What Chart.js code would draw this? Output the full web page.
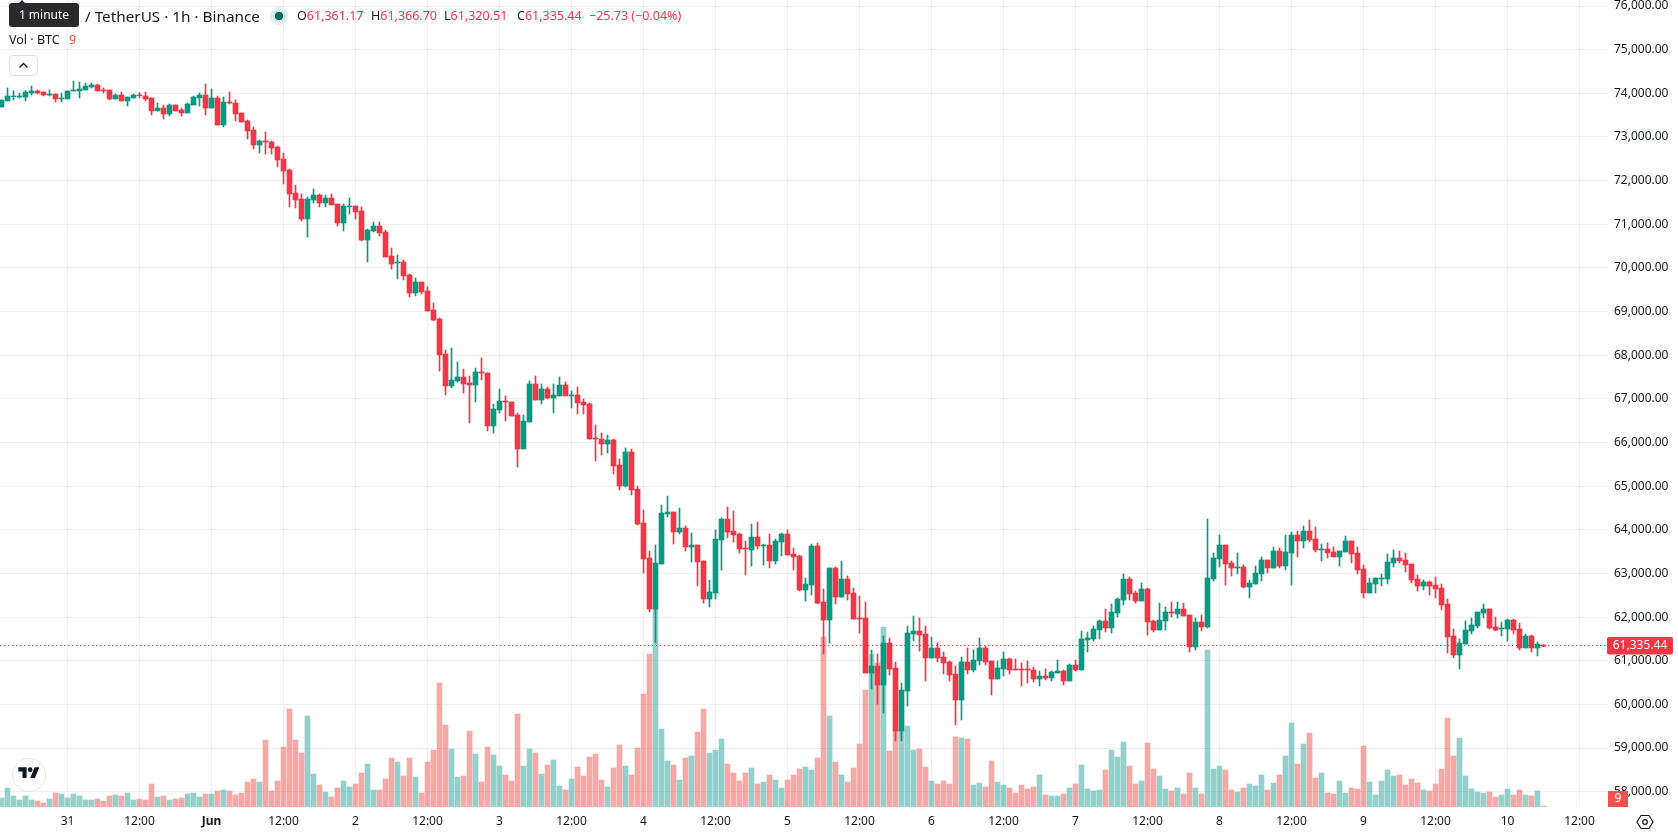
<!DOCTYPE html>
<html>
<head>
<meta charset="utf-8">
<title>BTC / USDT 1h</title>
<script src="https://cdn.jsdelivr.net/npm/chart.js@4"></script>
<style>
  html, body { margin:0; padding:0; background:#fff; overflow:hidden; }
  #wrap { position:relative; width:1678px; height:835px; font-family:"Noto Sans", sans-serif; color:#131722; }
  canvas { display:block; }
  .t { position:absolute; white-space:nowrap; font-size:12.5px; line-height:18px; }
  .title { font-size:15.3px; }
  .red { color:#f23645; }
  #tip { position:absolute; left:9px; top:3px; width:70px; height:24px; background:#2a2a2d; border-radius:3px;
         color:#fff; font-size:12px; line-height:24px; text-align:center; }
  #tip:before { content:""; position:absolute; left:9px; top:-3px; border:4px solid transparent; border-top:0; border-bottom-color:#2a2a2d; }
  #dot { position:absolute; left:270px; top:7px; width:18px; height:18px; border-radius:50%; background:#dcf0ec; }
  #dot:after { content:""; position:absolute; left:5px; top:5px; width:8px; height:8px; border-radius:50%; background:#00695c; }
  #fold { position:absolute; left:9px; top:55px; width:27px; height:19px; border:1px solid #e0e3eb; border-radius:4px; background:#fff; }
  #logo { position:absolute; left:12px; top:758px; width:32px; height:32px; border:1.5px solid #e6e6e6; border-radius:50%; background:#fff; }
  #gear { position:absolute; left:1636px; top:813px; }
</style>
</head>
<body>
<div id="wrap">
  <canvas id="chart" width="1678" height="835"></canvas>

  <div class="t title" style="left:30px;top:7px">Bitcoin</div>
  <div class="t title" style="left:85px;top:7px">/ TetherUS · 1h · Binance</div>
  <div id="tip">1 minute</div>
  <div id="dot"></div>
  <div class="t" style="left:297px;top:7px">O<span class="red">61,361.17</span></div>
  <div class="t" style="left:371px;top:7px">H<span class="red">61,366.70</span></div>
  <div class="t" style="left:444px;top:7px">L<span class="red">61,320.51</span></div>
  <div class="t" style="left:517px;top:7px">C<span class="red">61,335.44</span></div>
  <div class="t red" style="left:589px;top:7px">−25.73 (−0.04%)</div>
  <div class="t" style="left:9px;top:31px">Vol · BTC</div>
  <div class="t" style="left:69px;top:31px;color:#ef5350">9</div>
  <div id="fold">
    <svg width="27" height="19"><path d="M9.5 11.5 L13.5 7.5 L17.5 11.5" fill="none" stroke="#131722" stroke-width="1.3"/></svg>
  </div>
  <div id="logo">
    <svg width="32" height="32" viewBox="-9 -10 54 54"><path d="M14 22H7V11H0V4h14v18zM28 22h-8l7.5-18h8L28 22z" fill="#131722"/><circle cx="20" cy="8" r="4" fill="#131722"/></svg>
  </div>
  <svg id="gear" width="18" height="18" viewBox="0 0 18 18">
    <path d="M5 2.5h8L17 9l-4 6.5H5L1 9z" fill="none" stroke="#131722" stroke-width="1.2"/>
    <circle cx="9" cy="9" r="2.3" fill="none" stroke="#131722" stroke-width="1.2"/>
  </svg>
</div>

<script>
// hourly candles, first one is 30 May 13:00
const opens = [
  73686,73824,73923,73915,73915,74007,74053,74030,73961,73984,
  73870,73870,74053,74053,74076,74145,74190,74076,74076,73870,
  73961,73824,73893,73961,73938,73893,73595,73663,73526,73732,
  73618,73549,73732,73893,73961,73663,73893,73274,73801,73778,
  73549,73366,73160,72816,72908,72885,72770,72495,72243,71716,
  71579,71120,71556,71670,71487,71602,71464,71029,71403,71418,
  71304,70639,70846,70960,70823,70273,70113,70135,69838,69425,
  69677,69471,69036,68830,68028,67295,67409,67501,67364,67318,
  67616,67593,66379,66745,66951,66928,66631,65852,66470,67341,
  66974,67226,67020,67066,67318,67066,67089,66928,66883,66104,
  66081,65966,66058,65485,65004,65783,64934,64156,63354,62185,
  63216,64362,64408,63949,64041,63606,63652,63285,62414,62552,
  63766,64247,63972,63904,63583,63537,63835,63629,63652,63285,
  63720,63904,63445,63400,62621,62735,63629,62346,61933,63125,
  62460,62873,62552,61979,61979,60719,60880,60444,61407,60834,
  59391,60307,61613,61682,61613,61063,61292,61086,60971,60697,
  60101,60972,60789,60995,61293,60995,60582,60812,61041,60812,
  60812,60812,60789,60582,60651,60605,60720,60766,60537,60903,
  60789,61476,61499,61705,61911,61751,62094,62392,62873,62553,
  62369,62644,61911,61705,61911,62117,62072,62186,62049,61316,
  61888,61774,62873,63331,63652,63240,63125,63148,62690,62759,
  62988,63309,63125,63515,63171,63469,63881,63744,63973,63790,
  63538,63561,63492,63377,63492,63744,63469,63102,62553,62759,
  62873,62873,63240,63354,63309,63217,62873,62713,62805,62736,
  62667,62301,61568,61132,61384,61682,61797,62094,62186,61774,
  61728,61728,61934,61728,61293,61567,61293,61361.17
];
const highs = [
  73847,74122,74061,74000,74061,74167,74076,74030,74076,73984,
  74007,74053,74282,74259,74236,74236,74213,74122,74076,73984,
  74030,73915,73984,74015,74030,73893,73778,73732,73755,73732,
  73663,73778,73938,74007,74213,74099,73938,73915,74030,73847,
  73549,73389,73228,72930,73114,72908,72793,72633,72266,71899,
  71693,71624,71808,71693,71670,71693,71464,71464,71602,71418,
  71395,70891,71052,71052,70868,70456,70296,70181,69861,69769,
  69677,69563,69196,68853,68120,68165,67845,67684,67524,67707,
  67936,67593,66882,67226,67066,66928,66676,66631,67409,67524,
  67341,67272,67341,67501,67387,67180,67272,66997,66905,66402,
  66218,66172,66081,65623,65875,65852,65003,64453,63514,63652,
  64568,64774,64408,64499,64087,63926,63652,63285,62850,63995,
  64270,64522,64430,63926,63743,64133,64178,63674,63904,63789,
  63926,63995,63583,63422,62896,63674,63697,62644,63125,63148,
  63285,62941,62667,62483,62346,61246,61155,61567,61521,60971,
  60490,61796,62025,61979,61796,61544,61407,61201,60994,60880,
  61086,61293,61247,61522,61338,60995,60995,61201,61064,61041,
  60949,60995,60857,60766,60812,60766,61018,60789,60926,61018,
  61682,61659,61797,61934,62186,62301,62438,62988,62919,62598,
  62782,62667,61934,62323,62232,62346,62346,62323,62049,61980,
  62049,64248,63469,63881,63652,63286,63469,63194,62850,63171,
  63377,63309,63606,63583,63881,63950,63973,64087,64225,64064,
  63675,63698,63606,63515,63858,63744,63606,63194,62896,62896,
  62988,63446,63538,63515,63469,63217,62965,62850,62827,62919,
  62759,62415,61728,61499,61911,61980,62117,62301,62186,62003,
  61888,61957,61957,61865,61613,61590,61430,61366.70
];
const lows = [
  73686,73824,73847,73893,73824,73961,73984,73938,73938,73801,
  73801,73870,74053,73893,74076,74122,74053,74007,73847,73870,
  73824,73709,73893,73893,73824,73503,73595,73412,73480,73595,
  73480,73549,73732,73709,73503,73663,73274,73228,73755,73366,
  73343,72953,72724,72633,72610,72610,72312,71922,71395,71373,
  71075,70708,71487,71395,71395,71441,70960,70846,71235,71120,
  70617,70135,70823,70731,70250,69975,69746,69723,69334,69357,
  69402,69013,68784,67638,67089,67249,67386,67135,66447,66928,
  67432,66264,66218,66676,66493,66608,65439,65852,66470,66974,
  66882,66997,66676,67066,67066,66791,66653,66653,66081,65577,
  65714,65760,65279,64913,64981,64797,64110,63010,62117,61407,
  63216,64293,63674,63904,63514,63262,62712,62323,62231,62414,
  63079,63812,63720,63468,62964,63170,63560,63193,63125,63216,
  63400,63422,63079,62598,62369,62506,62300,61155,61407,62300,
  62460,62392,61956,61636,60719,60353,60009,59803,60674,59162,
  59162,59963,61452,61223,60536,61063,60971,60696,60536,59528,
  59643,60697,60743,60903,60903,60216,60582,60651,60697,60789,
  60422,60491,60514,60422,60560,60537,60720,60445,60537,60766,
  60789,61201,61453,61499,61659,61636,62003,62278,62392,62323,
  62369,61590,61659,61705,61705,62003,61980,62026,61201,61247,
  61682,61751,62827,63148,62736,62942,62988,62667,62438,62759,
  62827,63011,63125,63125,63079,62736,63377,63583,63721,63492,
  63286,63354,63377,63171,63492,63240,62988,62438,62553,62553,
  62713,62759,63148,63240,63034,62782,62598,62621,62507,62438,
  62163,61178,61064,60812,61384,61613,61751,61980,61728,61682,
  61568,61453,61613,61247,61293,61201,61109,61320.51
];
const closes = [
  73847,73938,73938,73938,74030,74053,74007,73961,73984,73870,
  73893,74053,74076,74099,74167,74190,74053,74053,73870,73961,
  73824,73915,73961,73946,73870,73595,73663,73526,73732,73595,
  73549,73755,73915,73961,73663,73893,73274,73801,73778,73526,
  73343,73137,72816,72908,72885,72747,72472,72220,71693,71556,
  71120,71579,71670,71487,71602,71441,71029,71418,71418,71281,
  70639,70868,70960,70800,70250,70090,70135,69815,69425,69677,
  69448,69013,68807,68005,67295,67432,67501,67341,67318,67616,
  67593,66379,66768,66951,66928,66608,65852,66493,67341,66974,
  67226,67020,67089,67318,67066,67089,66905,66860,66081,66081,
  65966,66058,65462,65004,65783,64912,64133,63331,62185,63239,
  64385,64408,63949,64041,63606,63652,63262,62414,62575,63789,
  64247,63949,63881,63560,63560,63835,63629,63652,63285,63743,
  63904,63422,63377,62621,62758,63629,62323,61933,63125,62460,
  62873,62529,61956,61956,60719,60880,60444,61407,60811,59391,
  60330,61636,61682,61590,61063,61292,61063,60948,60674,60101,
  60972,60789,61018,61293,60972,60582,60835,61041,60789,60789,
  60789,60789,60582,60651,60605,60743,60766,60537,60903,60789,
  61499,61522,61728,61911,61751,62117,62415,62873,62530,62369,
  62644,61888,61705,61934,62117,62094,62186,62026,61316,61888,
  61774,62896,63354,63652,63217,63125,63148,62690,62782,63011,
  63309,63125,63515,63171,63492,63881,63744,63973,63767,63538,
  63561,63469,63377,63515,63744,63446,63079,62553,62782,62896,
  62896,63263,63354,63286,63194,62850,62713,62805,62713,62644,
  62278,61545,61132,61407,61705,61820,62117,62186,61751,61705,
  61751,61934,61705,61293,61567,61293,61384,61335.44
];
// BTC traded per candle
const volumes = [
  90,190,110,70,110,70,60,40,80,140,
  130,90,130,110,70,70,80,60,110,120,
  110,140,70,80,70,230,100,110,70,80,
  90,130,140,100,130,130,160,170,160,120,
  140,250,280,250,670,160,260,600,980,670,
  540,910,330,220,150,100,190,260,200,230,
  340,430,170,170,280,490,450,310,490,300,
  140,450,570,1240,820,580,300,310,760,530,
  250,600,520,410,320,260,930,410,580,540,
  330,420,470,210,170,280,400,310,500,530,
  270,200,390,620,410,320,590,1130,1530,1980,
  780,460,420,270,490,510,750,980,540,570,
  680,430,340,260,340,390,230,250,320,270,
  190,270,320,380,400,370,490,1700,910,450,
  320,250,390,630,1170,1530,1440,1800,560,760,
  760,810,570,580,400,260,230,260,230,700,
  690,680,220,240,200,460,250,220,190,140,
  220,180,200,320,120,110,110,130,190,230,
  420,180,160,170,370,570,500,650,410,230,
  260,640,380,310,180,160,190,130,340,190,
  130,1570,380,410,370,170,150,190,230,210,
  320,170,240,320,510,840,430,630,740,290,
  340,140,130,260,140,190,180,610,250,120,
  260,370,310,320,220,280,240,170,160,230,
  380,890,510,690,310,180,150,140,150,100,
  120,180,120,170,120,110,160,9
];
const timeTicks = [11,23,35,47,59,71,83,95,107,119,131,143,155,167,179,191,203,215,227,239,251,263];
const timeLabels = ['31','12:00','Jun','12:00','2','12:00','3','12:00','4','12:00','5','12:00','6','12:00','7','12:00','8','12:00','9','12:00','10','12:00'];
const priceTicks = [58000,59000,60000,61000,62000,63000,64000,65000,66000,67000,68000,69000,70000,71000,72000,73000,74000,75000,76000];

const UP = '#089981', DOWN = '#f23645';
const FONT = '"Noto Sans", sans-serif';
const fmtP = n => n.toLocaleString('en-US', { minimumFractionDigits:2, maximumFractionDigits:2 });

const isUp = opens.map((o, i) => closes[i] >= o);
const candleColors = isUp.map(u => u ? UP : DOWN);
const volumeColors = isUp.map(u => u ? 'rgba(38,166,154,0.5)' : 'rgba(239,83,80,0.5)');

// last price line and the two value tags on the right
const lastValuePlugin = {
  id:'lastValue',
  afterDatasetsDraw(c){
    const ctx = c.ctx, area = c.chartArea;
    const py = Math.floor(c.scales.y.getPixelForValue(closes.at(-1))) - 0.5;
    ctx.save();
    ctx.strokeStyle = DOWN;
    ctx.lineWidth = 1;
    ctx.setLineDash([1, 3]);
    ctx.beginPath(); ctx.moveTo(area.left, py); ctx.lineTo(area.right, py); ctx.stroke();
    ctx.restore();
  },
  afterDraw(c){
    const ctx = c.ctx, area = c.chartArea;
    const py = Math.floor(c.scales.y.getPixelForValue(closes.at(-1))) - 0.5;
    ctx.save();
    ctx.textAlign = 'center';
    ctx.textBaseline = 'middle';
    ctx.font = '12px ' + FONT;
    ctx.fillStyle = DOWN;
    ctx.beginPath(); ctx.roundRect(area.right - 1, py - 8.5, 66, 17.5, 2); ctx.fill();
    ctx.fillStyle = '#fff';
    ctx.fillText(fmtP(closes.at(-1)), area.right + 32, py + 0.5);
    ctx.fillStyle = '#ef5350';
    ctx.fillRect(area.right, area.bottom - 16, 20, 16);
    ctx.fillStyle = '#fff';
    ctx.fillText(String(volumes.at(-1)), area.right + 10, area.bottom - 8);
    ctx.restore();
  }
};

new Chart(document.getElementById('chart'), {
  type:'bar',
  data:{
    datasets:[
      { label:'Body', order:1, yAxisID:'y', barThickness:5, grouped:false,
        backgroundColor:candleColors,
        data:opens.map((o, i) => ({ x:i, y:[o, closes[i]] })) },
      { label:'Wick', order:2, yAxisID:'y', barThickness:1, grouped:false,
        backgroundColor:candleColors,
        data:lows.map((l, i) => ({ x:i, y:[l, highs[i]] })) },
      { label:'Volume', order:3, yAxisID:'vol', barThickness:5, grouped:false,
        backgroundColor:volumeColors,
        data:volumes.map((v, i) => ({ x:i, y:v })) }
    ]
  },
  options:{
    responsive:false,
    animation:false,
    events:[],
    layout:{ padding:0 },
    plugins:{ legend:{ display:false }, tooltip:{ enabled:false } },
    scales:{
      x:{
        type:'linear', min:-0.25, max:267.75, offset:false,
        border:{ display:false },
        grid:{ color:'rgba(42,46,57,0.07)', drawTicks:false, offset:false },
        afterBuildTicks:s => { s.ticks = timeTicks.map(v => ({ value:v })); },
        afterFit:s => { s.height = 28; s.paddingLeft = 0; s.paddingRight = 0; },
        ticks:{
          autoSkip:false, maxRotation:0, padding:7, color:'#131722',
          font:ctx => ({ family:FONT, size:12, weight:timeLabels[ctx.index] === 'Jun' ? 'bold' : 'normal' }),
          callback:(v, i) => timeLabels[i]
        }
      },
      y:{
        type:'linear', position:'right', min:57650, max:76137.5,
        border:{ display:false },
        grid:{ color:'rgba(42,46,57,0.07)', drawTicks:false },
        afterBuildTicks:s => { s.ticks = priceTicks.map(v => ({ value:v })); },
        // the top label may run off the canvas, no room is kept for it
        afterFit:s => { s.width = 70; s.paddingTop = 0; s.paddingBottom = 0; },
        ticks:{
          autoSkip:false, padding:6, color:'#131722',
          font:{ family:FONT, size:12 },
          callback:v => fmtP(v)
        }
      },
      vol:{ type:'linear', display:false, min:0, max:8070 }
    }
  },
  plugins:[lastValuePlugin]
});
</script>
</body>
</html>
